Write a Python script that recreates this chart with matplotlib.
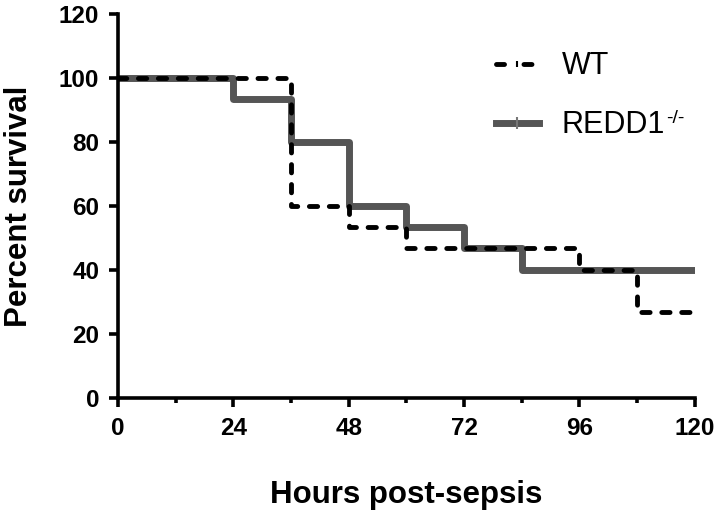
import matplotlib
matplotlib.use("Agg")
from matplotlib import pyplot as plt
from matplotlib.lines import Line2D

# Kaplan-Meier step data (hours, percent survival)
wt_time = [0, 36, 48, 60, 96, 108, 120]
wt_surv = [100, 60, 53.3, 46.7, 40, 26.7, 26.7]
ko_time = [0, 24, 36, 48, 60, 72, 84, 120]
ko_surv = [100, 93.3, 80, 60, 53.3, 46.7, 40, 40]
x_ticks = [0, 24, 48, 72, 96, 120]
y_ticks = [0, 20, 40, 60, 80, 100, 120]

plt.rcParams['font.family'] = ['Liberation Sans', 'DejaVu Sans']

grey = '#555555'
wt_dash = (1.7, 2.4)

fig = plt.figure(figsize=(7.2, 5.18), dpi=100)
ax = fig.add_axes([0.164, 0.232, 0.801, 0.741])

ax.step(ko_time, ko_surv, where='post', color=grey, lw=5, zorder=2)
ax.step(wt_time, wt_surv, where='post', color='black', lw=3.5,
        dashes=wt_dash, dash_capstyle='round', zorder=3)

ax.set_xlim(0, 120)
ax.set_ylim(0, 120)
ax.set_xticks(x_ticks)
ax.set_xticks(range(12, 120, 24), minor=True)
ax.set_yticks(y_ticks)
ax.set_xticklabels([str(t) for t in x_ticks], fontsize=17.5, fontweight='bold')
ax.set_yticklabels([str(t) for t in y_ticks], fontsize=17.5, fontweight='bold')

for s in ['top', 'right']:
    ax.spines[s].set_visible(False)
for s in ['left', 'bottom']:
    ax.spines[s].set_linewidth(2.6)
    ax.spines[s].set_zorder(5)
ax.tick_params(which='major', length=6.5, width=2.6, pad=7)
ax.tick_params(which='minor', length=3.5, width=2.6)

ax.set_xlabel('Hours post-sepsis', fontsize=22.5, fontweight='bold', labelpad=29)
ax.set_ylabel('Percent survival', fontsize=22.5, fontweight='bold', labelpad=18)

# legend proxies with the small censor tick in the middle
h_wt = Line2D([], [], color='black', lw=3.5, dashes=(1.65, 4.0),
              dash_capstyle='round', marker='|', ms=4, mew=1.5)
h_ko = Line2D([], [], color=grey, lw=5, marker='|', ms=8, mew=1.5,
              mec='#777777')
leg = ax.legend([h_wt, h_ko], ['WT', 'REDD1'], loc='upper left',
                bbox_to_anchor=(0.655, 0.903), borderaxespad=0, borderpad=0,
                frameon=False, fontsize=22, handlelength=1.4,
                labelspacing=0.95, handletextpad=0.75)

# superscript -/- after REDD1 (plain hyphens, not minus signs)
fig.canvas.draw()
bb = leg.get_texts()[1].get_window_extent().transformed(fig.transFigure.inverted())
fig.text(bb.x1 + 0.002, bb.y0 + bb.height * 0.72, '-/-', fontsize=14,
         va='center', ha='left')

fig.savefig("out.png", dpi=100)
